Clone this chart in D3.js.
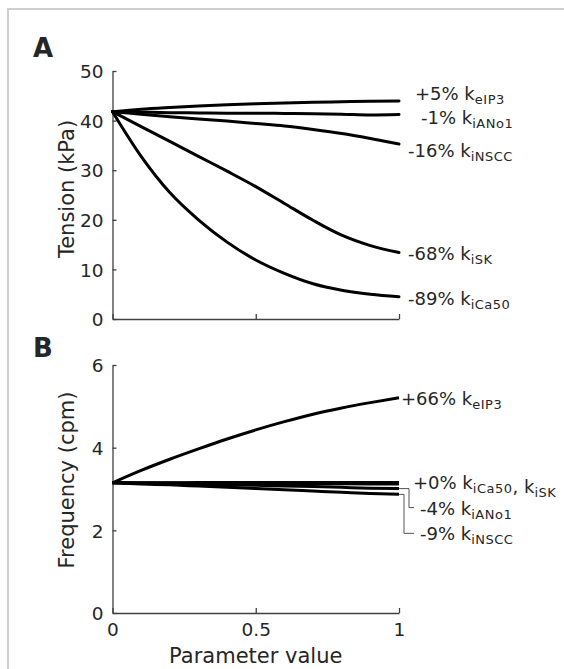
<!DOCTYPE html>
<html><head><meta charset="utf-8">
<script src="https://cdn.jsdelivr.net/npm/d3@7"></script>
<style>body{margin:0;background:#fff}svg{display:block}text{font-family:"DejaVu Sans",Verdana,sans-serif;fill:#262626}</style>
</head><body><svg id="c" width="564" height="669"></svg>
<script>
// ---------- data ----------
const paramX = [0,0.1,0.2,0.3,0.4,0.5,0.6,0.7,0.8,0.9,1];

const tensionNames = ["eIP3","iANo1","iNSCC","iSK","iCa50"];
const tensionPct   = ["+5%","-1%","-16%","-68%","-89%"];
const tension_eIP3  = [41.8,42.3,42.65,42.95,43.2,43.4,43.55,43.7,43.8,43.9,43.95];
const tension_iANo1 = [41.8,41.7,41.6,41.55,41.5,41.5,41.45,41.4,41.3,41.15,41.25];
const tension_iNSCC = [41.8,41.3,40.8,40.3,39.9,39.4,38.9,38.2,37.4,36.4,35.3];
const tension_iSK   = [41.8,38.8,35.8,32.8,29.8,26.7,23.3,19.9,16.9,14.8,13.4];
const tension_iCa50 = [41.8,32.8,25.5,20.0,15.5,11.9,9.2,7.1,5.8,5.0,4.5];

const freqNames = ["eIP3","iCa50","iSK","iANo1","iNSCC"];
const freq_eIP3  = [3.15,3.45,3.72,3.97,4.21,4.43,4.63,4.81,4.96,5.09,5.21];
const freq_iCa50 = [3.15,3.15,3.15,3.155,3.155,3.16,3.16,3.16,3.16,3.16,3.16];
const freq_iSK   = [3.15,3.147,3.144,3.141,3.138,3.135,3.132,3.129,3.126,3.123,3.12];
const freq_iANo1 = [3.15,3.14,3.13,3.11,3.10,3.09,3.07,3.06,3.04,3.02,3.01];
const freq_iNSCC = [3.15,3.12,3.10,3.07,3.04,3.01,2.98,2.95,2.92,2.89,2.87];

const tensionTicks = [0,10,20,30,40,50];
const freqTicks = [0,2,4,6];
const xTicks = [0,0.5,1];
const xTickLabels = ["0","0.5","1"];

// ---------- drawing ----------
const svg = d3.select("#c");
svg.append("rect").attr("x",8).attr("y",9).attr("width",600).attr("height",700)
  .attr("fill","none").attr("stroke","#cfcfcf").attr("stroke-width",2);

const x = d3.scaleLinear().domain([0,1]).range([112.5,399]);
const yA = d3.scaleLinear().domain([0,50]).range([319,71]);
const yB = d3.scaleLinear().domain([0,6]).range([613,365]);

function drawAxes(y, ticks, showXLabels){
  const gy = svg.append("g").attr("transform",`translate(${x(0)},0)`)
    .call(d3.axisLeft(y).tickValues(ticks).tickSizeInner(-4).tickSizeOuter(0).tickPadding(9).tickFormat(d3.format("d")));
  const gx = svg.append("g").attr("transform",`translate(0,${y(0)})`)
    .call(d3.axisBottom(x).tickValues(xTicks).tickSizeInner(-5).tickSizeOuter(0).tickPadding(10)
      .tickFormat((d,i)=> showXLabels ? xTickLabels[i] : ""));
  [gx,gy].forEach(g=>{
    g.select(".domain").attr("stroke","#404040").attr("stroke-width",1.3);
    g.selectAll(".tick line").attr("stroke","#404040").attr("stroke-width",1.3);
    g.selectAll(".tick text").attr("font-size",18.5).attr("fill","#262626")
      .attr("font-family","DejaVu Sans, sans-serif");
  });
  gy.selectAll(".tick text").attr("dy","0.36em");
  gx.selectAll(".tick text").attr("dy","0.72em");
}
drawAxes(yA, tensionTicks, false);
drawAxes(yB, freqTicks, true);

const line = y => d3.line().x((d,i)=>x(paramX[i])).y(d=>y(d)).curve(d3.curveMonotoneX);

const tensionSeries = [tension_eIP3,tension_iANo1,tension_iNSCC,tension_iSK,tension_iCa50];
tensionSeries.forEach(s=>{
  svg.append("path").attr("d",line(yA)(s)).attr("fill","none").attr("stroke","#000")
    .attr("stroke-width",3).attr("stroke-linecap","round");
});
const freqSeries = [freq_eIP3,freq_iCa50,freq_iSK,freq_iANo1,freq_iNSCC];
freqSeries.forEach(s=>{
  svg.append("path").attr("d",line(yB)(s)).attr("fill","none").attr("stroke","#000")
    .attr("stroke-width",3).attr("stroke-linecap","butt");
});

function label(xp, yp, parts){
  const t = svg.append("text").attr("x",xp).attr("y",yp).attr("font-size",18);
  parts.forEach(p=>{
    if(p.sub){
      t.append("tspan").attr("font-size",13).attr("dy",4).attr("letter-spacing",0.5).text(p.t);
      t.append("tspan").attr("dy",-4).text("");
    } else {
      t.append("tspan").text(p.t);
    }
  });
}
// panel A labels
const labAx = [415,421,408,408,408];
const labAdy = [-1,10,13,7.5,8.5];
tensionSeries.forEach((s,i)=>{
  label(labAx[i], yA(s[s.length-1])+labAdy[i], [{t:tensionPct[i]+" k"},{t:tensionNames[i],sub:true}]);
});
// panel B labels
label(401, yB(freq_eIP3[10])+7.5, [{t:"+66% k"},{t:"eIP3",sub:true}]);
label(413, yB(freq_iCa50[10])+7, [{t:"+0% k"},{t:"iCa50",sub:true},{t:", k"},{t:"iSK",sub:true}]);
label(420, yB(freq_iANo1[10])+26, [{t:"-4% k"},{t:"iANo1",sub:true}]);
label(420, yB(freq_iNSCC[10])+46, [{t:"-9% k"},{t:"iNSCC",sub:true}]);

// leader lines
const ya1 = yB(freq_iANo1[10]), yn1 = yB(freq_iNSCC[10]);
svg.append("path").attr("d",`M${x(1)},${ya1}H${x(1)+10}V${ya1+19}H${x(1)+15}`)
  .attr("fill","none").attr("stroke","#555").attr("stroke-width",1);
svg.append("path").attr("d",`M${x(1)},${yn1}H${x(1)+5}V${yn1+39}H${x(1)+15}`)
  .attr("fill","none").attr("stroke","#555").attr("stroke-width",1);

// axis titles
svg.append("text").attr("transform",`translate(74,${(yA(0)+yA(50))/2-6}) rotate(-90)`)
  .attr("text-anchor","middle").attr("font-size",21).text("Tension (kPa)");
svg.append("text").attr("transform",`translate(74,${(yB(0)+yB(6))/2-9}) rotate(-90)`)
  .attr("text-anchor","middle").attr("font-size",21).text("Frequency (cpm)");
svg.append("text").attr("x",(x(0)+x(1))/2).attr("y",663).attr("text-anchor","middle")
  .attr("font-size",21).text("Parameter value");

// panel letters
svg.append("text").attr("x",33).attr("y",57).attr("font-size",26).attr("font-weight","bold")
  .attr("font-family","Liberation Sans, Arial, sans-serif").attr("fill","#000").text("A");
svg.append("text").attr("x",33).attr("y",357).attr("font-size",26).attr("font-weight","bold")
  .attr("font-family","Liberation Sans, Arial, sans-serif").attr("fill","#000").text("B");
</script></body></html>
